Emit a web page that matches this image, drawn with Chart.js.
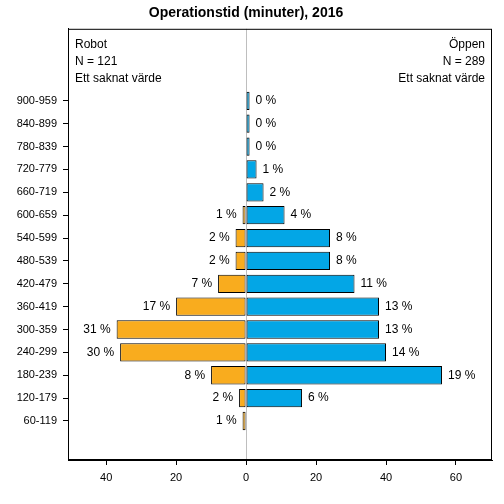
<!DOCTYPE html>
<html>
<head>
<meta charset="utf-8">
<script src="https://cdn.jsdelivr.net/npm/chart.js@4"></script>
<style>
  body { margin: 0; background: #fff; }
  #wrap { width: 504px; height: 504px; }
</style>
</head>
<body>
<div id="wrap"><canvas id="mycanvas"></canvas></div>
<script>
// intervals, bottom to top
var categories = ['60-119','120-179','180-239','240-299','300-359','360-419','420-479',
  '480-539','540-599','600-659','660-719','720-779','780-839','840-899','900-959'];
// number of patients per interval
var robotCounts = [1, 2, 10, 36, 37, 20, 8, 3, 3, 1, 0, 0, 0, 0, 0];
var oppenCounts = [0, 16, 56, 40, 38, 38, 31, 24, 24, 11, 5, 3, 1, 1, 1];
// percent labels as printed
var robotPct = ['1 %','2 %','8 %','30 %','31 %','17 %','7 %','2 %','2 %','1 %','','','','',''];
var oppenPct = ['','6 %','19 %','14 %','13 %','13 %','11 %','8 %','8 %','4 %','2 %','1 %','0 %','0 %','0 %'];
var xTicks = [-40, -20, 0, 20, 40, 60];
var robotInfo = ['Robot', 'N = 121', 'Ett saknat värde'];
var oppenInfo = ['Öppen', 'N = 289', 'Ett saknat värde'];

var FONT = '"Liberation Sans", Arial, sans-serif';

var robotData = [];
var oppenData = [];
for (var i in categories) {
  robotData.push({ y: +i, x: robotCounts[i] ? -robotCounts[i] : null });
  oppenData.push({ y: +i, x: oppenCounts[i] ? oppenCounts[i] : null });
}

var textPlugin = {
  id: 'texts',
  afterDatasetsDraw: function(chart) {
    var ctx = chart.ctx;
    var area = chart.chartArea;
    ctx.save();
    // frame
    ctx.strokeStyle = '#000';
    ctx.lineWidth = 1;
    ctx.strokeRect(area.left + 0.5, area.top + 0.5, area.right - area.left - 1, area.bottom - area.top - 1);

    ctx.fillStyle = '#000';
    ctx.font = '12px ' + FONT;
    ctx.textBaseline = 'middle';

    // percent labels
    var m0 = chart.getDatasetMeta(0);
    var m1 = chart.getDatasetMeta(1);
    ctx.textAlign = 'right';
    m0.data.forEach(function(bar, i) {
      if (robotCounts[i] && robotPct[i]) ctx.fillText(robotPct[i], bar.x - 6, bar.y);
    });
    ctx.textAlign = 'left';
    m1.data.forEach(function(bar, i) {
      if (oppenCounts[i] && oppenPct[i]) ctx.fillText(oppenPct[i], bar.x + 6, bar.y);
    });

    // group info in the corners
    robotInfo.forEach(function(t, k) {
      ctx.textAlign = 'left';
      ctx.fillText(t, area.left + 7, area.top + 16 + k * 17);
    });
    oppenInfo.forEach(function(t, k) {
      ctx.textAlign = 'right';
      ctx.fillText(t, area.right - 7, area.top + 16 + k * 17);
    });
    ctx.restore();
  }
};

var ctx = document.getElementById('mycanvas');
var chart = new Chart(ctx, {
  type: 'bar',
  data: {
    datasets: [
      {
        label: 'Robot',
        data: robotData,
        backgroundColor: '#F9AC1E',
        borderColor: '#000',
        borderWidth: 1,
        borderSkipped: false
      },
      {
        label: 'Öppen',
        data: oppenData,
        backgroundColor: '#03A6E6',
        borderColor: '#000',
        borderWidth: 1,
        borderSkipped: false
      }
    ]
  },
  options: {
    indexAxis: 'y',
    responsive: true,
    maintainAspectRatio: false,
    animation: false,
    categoryPercentage: 1,
    barPercentage: 0.8,
    layout: { padding: { left: 0, right: 12, top: 0, bottom: 0 } },
    plugins: {
      legend: { display: false },
      tooltip: { enabled: false },
      title: {
        display: true,
        text: 'Operationstid (minuter), 2016',
        color: '#000',
        font: { family: FONT, size: 14, weight: 'bold' },
        padding: { top: 5, bottom: 7 }
      }
    },
    scales: {
      x: {
        type: 'linear',
        stacked: true,
        min: -50.9,
        max: 70.3,
        afterBuildTicks: function(axis) {
          axis.ticks = xTicks.map(function(v) { return { value: v }; });
        },
        afterFit: function(axis) { axis.height = 44; },
        ticks: {
          color: '#000',
          font: { family: FONT, size: 11 },
          padding: 6,
          maxRotation: 0,
          callback: function(v) { return Math.abs(v); }
        },
        grid: {
          drawOnChartArea: true,
          color: function(c) { return c.tick && c.tick.value === 0 ? '#BEBEBE' : 'rgba(0,0,0,0)'; },
          tickColor: '#000',
          tickLength: 5
        },
        border: { display: true, color: '#000' }
      },
      y: {
        type: 'linear',
        stacked: true,
        offset: false,
        min: -1.706,
        max: 17.15,
        afterBuildTicks: function(axis) {
          axis.ticks = categories.map(function(c, i) { return { value: i }; });
        },
        afterFit: function(axis) { axis.width = 68; },
        ticks: {
          color: '#000',
          font: { family: FONT, size: 11 },
          padding: 6,
          autoSkip: false,
          callback: function(v) { return categories[v]; }
        },
        grid: {
          offset: false,
          drawOnChartArea: false,
          tickColor: '#000',
          tickLength: 5
        },
        border: { display: true, color: '#000' }
      }
    }
  },
  plugins: [textPlugin]
});
</script>
</body>
</html>
